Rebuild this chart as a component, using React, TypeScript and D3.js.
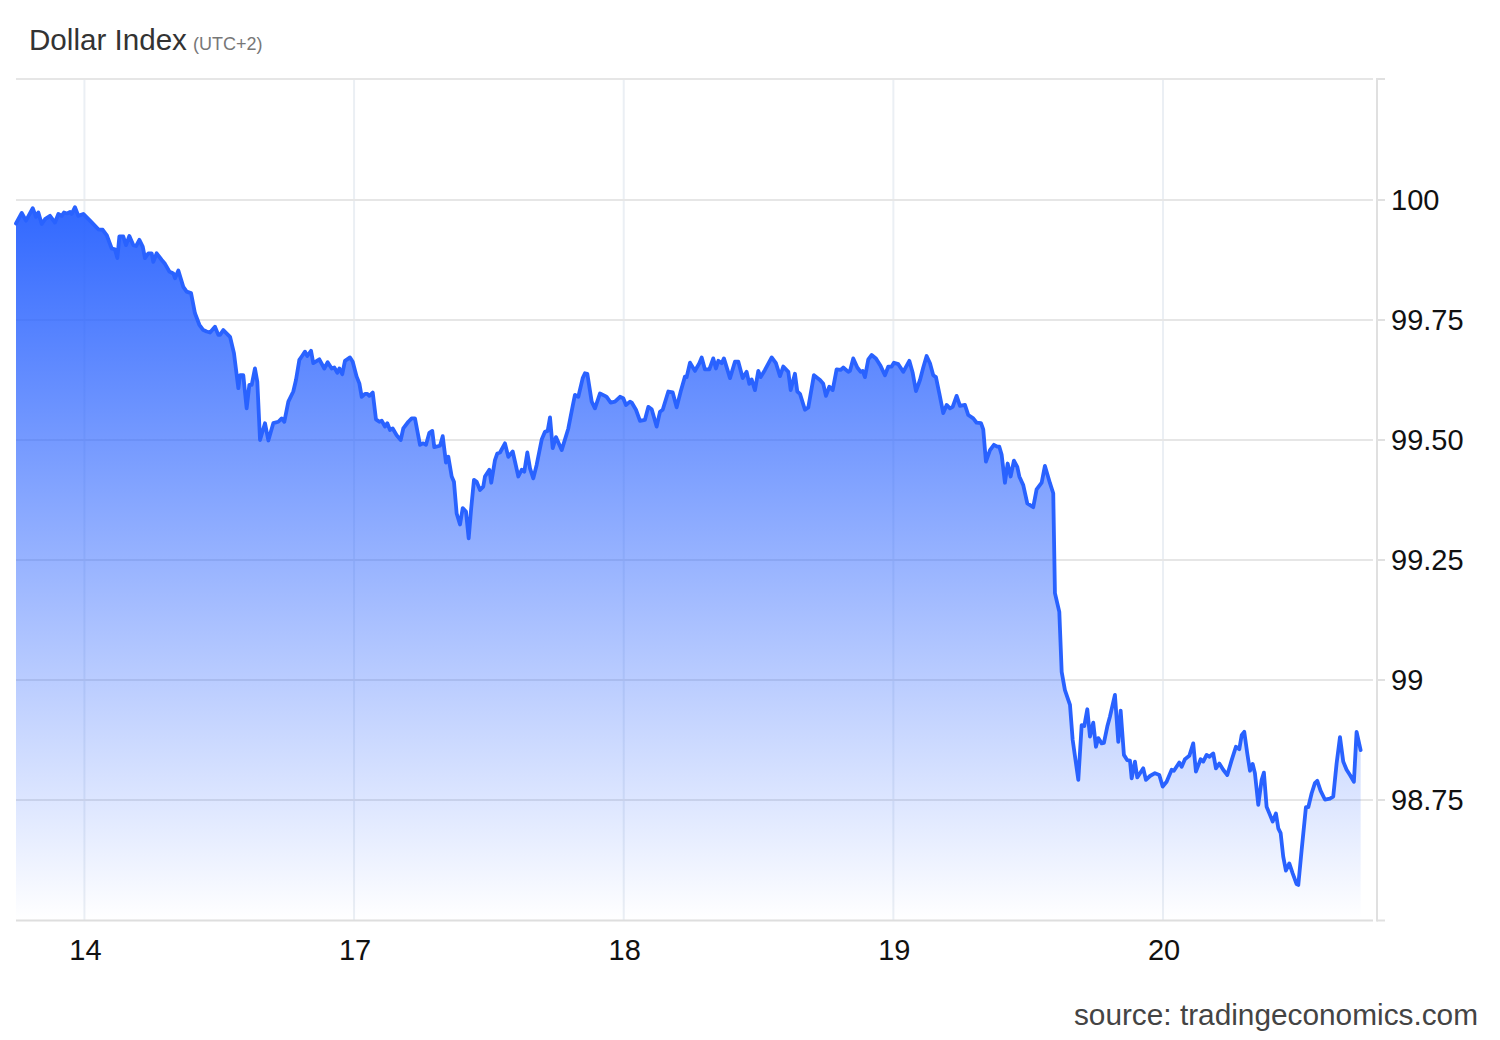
import React, { useEffect } from "react";
import * as d3 from "d3";

// Trading-time hours (weekend removed) from 14th 00:00, and Dollar Index values
const session14: [number, number][] = [
  [-6.09, 99.951], [-5.58, 99.973], [-5.2, 99.957], [-4.6, 99.983], [-4.31, 99.965], [-4.1, 99.974],
  [-3.8, 99.95], [-3.51, 99.96], [-3.06, 99.967], [-2.62, 99.953], [-2.32, 99.971], [-2.02, 99.967],
  [-1.82, 99.974], [-1.55, 99.972], [-1.28, 99.975], [-1.13, 99.971], [-0.84, 99.985], [-0.54, 99.967],
  [-0.1, 99.971], [0.5, 99.957], [1.24, 99.939], [1.63, 99.938], [1.98, 99.927], [2.43, 99.899],
  [2.72, 99.897], [2.93, 99.879], [3.11, 99.924], [3.46, 99.924], [3.7, 99.906], [4.0, 99.925],
  [4.35, 99.906], [4.59, 99.904], [4.89, 99.917], [5.19, 99.903], [5.39, 99.879], [5.69, 99.889],
  [5.99, 99.889], [6.13, 99.871], [6.43, 99.889], [6.88, 99.875], [7.17, 99.867], [7.56, 99.851],
  [7.91, 99.847], [8.06, 99.837], [8.36, 99.853], [8.8, 99.819], [9.1, 99.809], [9.49, 99.806],
  [9.84, 99.764], [10.23, 99.74], [10.58, 99.729], [10.88, 99.726], [11.18, 99.724], [11.62, 99.736],
  [11.92, 99.719], [12.07, 99.719], [12.36, 99.729], [12.96, 99.715], [13.31, 99.681], [13.7, 99.608],
  [13.85, 99.635], [14.14, 99.635], [14.44, 99.566], [14.68, 99.615], [14.89, 99.615], [15.18, 99.649],
  [15.39, 99.621], [15.63, 99.5], [16.07, 99.535], [16.37, 99.499], [16.81, 99.535], [17.26, 99.538],
  [17.56, 99.545], [17.79, 99.538], [18.15, 99.58], [18.59, 99.601], [18.83, 99.625], [19.13, 99.667],
  [19.37, 99.675], [19.63, 99.684], [19.84, 99.675], [20.17, 99.686], [20.37, 99.66], [20.91, 99.668],
  [21.35, 99.649], [21.65, 99.662], [22.01, 99.649], [22.24, 99.651], [22.51, 99.64], [22.69, 99.649],
  [22.95, 99.637], [23.19, 99.665], [23.64, 99.672], [23.88, 99.663],
];

const session17: [number, number][] = [
  [24.23, 99.632], [24.47, 99.618], [24.68, 99.59], [24.97, 99.596], [25.18, 99.596], [25.36, 99.592],
  [25.66, 99.599], [25.95, 99.543], [26.25, 99.538], [26.46, 99.54], [26.75, 99.528], [26.96, 99.535],
  [27.2, 99.521], [27.44, 99.524], [27.79, 99.51], [28.15, 99.5], [28.38, 99.524], [28.83, 99.538],
  [29.13, 99.545], [29.42, 99.545], [29.87, 99.49], [30.16, 99.493], [30.4, 99.49], [30.7, 99.515],
  [30.96, 99.519], [31.14, 99.485], [31.65, 99.488], [31.89, 99.508], [32.18, 99.453], [32.39, 99.465],
  [32.69, 99.424], [32.89, 99.413], [33.13, 99.347], [33.43, 99.324], [33.67, 99.358], [33.96, 99.351],
  [34.2, 99.295], [34.41, 99.354], [34.67, 99.417], [34.91, 99.413], [35.21, 99.396], [35.5, 99.403],
  [35.65, 99.424], [36.04, 99.438], [36.21, 99.411], [36.54, 99.458], [36.75, 99.472], [36.99, 99.474],
  [37.43, 99.493], [37.73, 99.465], [38.12, 99.476], [38.62, 99.424], [38.92, 99.438], [39.15, 99.434],
  [39.42, 99.474], [39.66, 99.441], [39.95, 99.42], [40.25, 99.448], [40.7, 99.501], [40.99, 99.517],
  [41.23, 99.519], [41.44, 99.547], [41.68, 99.483], [41.97, 99.506], [42.48, 99.479], [43.07, 99.524],
  [43.46, 99.571], [43.66, 99.594], [43.96, 99.59], [44.35, 99.629], [44.55, 99.639], [44.76, 99.638],
  [45.15, 99.58], [45.44, 99.566], [45.89, 99.597], [46.33, 99.592], [46.48, 99.59], [46.84, 99.578],
  [47.22, 99.58], [47.67, 99.59], [47.96, 99.587],
];

const session18: [number, number][] = [
  [48.2, 99.573], [48.56, 99.58], [48.71, 99.578], [49.09, 99.563], [49.45, 99.54], [49.89, 99.542],
  [50.19, 99.569], [50.49, 99.564], [50.93, 99.528], [51.23, 99.559], [51.47, 99.563], [51.97, 99.601],
  [52.36, 99.599], [52.71, 99.568], [53.07, 99.601], [53.45, 99.632], [53.6, 99.631], [53.9, 99.661],
  [54.34, 99.644], [54.73, 99.66], [54.94, 99.672], [55.23, 99.647], [55.62, 99.647], [55.97, 99.67],
  [56.21, 99.649], [56.42, 99.665], [56.72, 99.66], [56.92, 99.67], [57.46, 99.629], [57.9, 99.663],
  [58.2, 99.663], [58.59, 99.629], [58.94, 99.642], [59.18, 99.617], [59.39, 99.626], [59.68, 99.604],
  [59.98, 99.644], [60.19, 99.631], [60.57, 99.646], [61.17, 99.672], [61.55, 99.66], [61.91, 99.633],
  [62.2, 99.653], [62.65, 99.642], [62.86, 99.604], [63.24, 99.638], [63.45, 99.601], [63.69, 99.596],
  [64.13, 99.563], [64.43, 99.568], [64.93, 99.635], [65.47, 99.625], [65.76, 99.617], [66.0, 99.592],
  [66.3, 99.611], [66.6, 99.604], [66.95, 99.647], [67.31, 99.646], [67.54, 99.651], [67.99, 99.642],
  [68.14, 99.644], [68.43, 99.67], [68.79, 99.651], [69.09, 99.642], [69.27, 99.644], [69.47, 99.631],
  [69.77, 99.668], [70.07, 99.677], [70.45, 99.67], [70.87, 99.654], [71.25, 99.635], [71.55, 99.653],
  [71.85, 99.653],
];

const session19: [number, number][] = [
  [72.05, 99.661], [72.44, 99.658], [72.88, 99.642], [73.42, 99.665], [73.72, 99.64], [74.01, 99.602],
  [74.37, 99.625], [74.66, 99.651], [74.96, 99.675], [75.26, 99.66], [75.55, 99.635], [75.79, 99.631],
  [76.09, 99.597], [76.44, 99.556], [76.74, 99.573], [77.04, 99.566], [77.28, 99.569], [77.63, 99.592],
  [77.93, 99.571], [78.37, 99.573], [78.67, 99.552], [79.11, 99.545], [79.41, 99.536], [79.8, 99.535],
  [80.0, 99.522], [80.24, 99.455], [80.6, 99.479], [80.95, 99.49], [81.25, 99.486], [81.43, 99.486],
  [81.64, 99.469], [81.93, 99.411], [82.17, 99.451], [82.44, 99.424], [82.73, 99.457], [83.03, 99.444],
  [83.21, 99.424], [83.56, 99.406], [83.92, 99.368], [84.45, 99.36], [84.75, 99.397], [85.2, 99.411],
  [85.49, 99.446], [85.94, 99.41], [86.23, 99.389], [86.38, 99.181], [86.77, 99.142], [86.98, 99.017],
  [87.27, 98.979], [87.72, 98.948], [87.96, 98.875], [88.46, 98.792], [88.76, 98.906], [88.99, 98.904],
  [89.26, 98.939], [89.5, 98.882], [89.79, 98.911], [90.03, 98.861], [90.24, 98.879], [90.54, 98.868],
  [90.74, 98.869], [91.04, 98.903], [91.28, 98.924], [91.72, 98.969], [92.02, 98.871], [92.23, 98.936],
  [92.52, 98.844], [92.82, 98.833], [93.06, 98.832], [93.21, 98.795], [93.5, 98.83], [93.71, 98.797],
  [94.24, 98.816], [94.48, 98.792], [94.84, 98.8], [95.28, 98.806], [95.67, 98.802],
];

const session20: [number, number][] = [
  [95.97, 98.778], [96.32, 98.788], [96.77, 98.813], [96.97, 98.811], [97.45, 98.828], [97.66, 98.819],
  [97.95, 98.835], [98.34, 98.842], [98.69, 98.868], [98.93, 98.809], [99.35, 98.835], [99.58, 98.83],
  [99.88, 98.844], [100.12, 98.84], [100.47, 98.847], [100.71, 98.816], [101.01, 98.826], [101.36, 98.813],
  [101.72, 98.802], [102.11, 98.833], [102.49, 98.861], [102.79, 98.856], [103.0, 98.885], [103.23, 98.892],
  [103.5, 98.847], [103.74, 98.811], [103.98, 98.825], [104.18, 98.806], [104.48, 98.74], [104.78, 98.792],
  [104.98, 98.807], [105.22, 98.736], [105.52, 98.719], [105.76, 98.705], [106.05, 98.722], [106.26, 98.691],
  [106.47, 98.681], [106.7, 98.632], [106.94, 98.603], [107.24, 98.618], [107.54, 98.597], [107.89, 98.575],
  [108.04, 98.573], [108.34, 98.646], [108.72, 98.735], [108.93, 98.735], [109.23, 98.764], [109.52, 98.785],
  [109.73, 98.79], [110.03, 98.769], [110.41, 98.751], [110.86, 98.753], [111.15, 98.757], [111.45, 98.826],
  [111.75, 98.881], [112.04, 98.83], [112.34, 98.813], [112.64, 98.802], [112.99, 98.788], [113.23, 98.892],
  [113.59, 98.854],
];

const dayTickHours = [0, 24, 48, 72, 96];
const dayTickLabels = ["14", "17", "18", "19", "20"];
const yTickValues = [98.75, 99, 99.25, 99.5, 99.75, 100, 100.25];
const yTickLabels = ["98.75", "99", "99.25", "99.50", "99.75", "100", ""];

const FONT = "'Liberation Sans', Arial, Helvetica, sans-serif";
const LINE_COLOR = "#2962ff";

export default function App() {
  useEffect(() => {
    document.body.style.margin = "0";
  }, []);

  const data = [...session14, ...session17, ...session18, ...session19, ...session20];

  const left = 16;
  const right = 1373;
  const top = 80;
  const bottom = 920;

  const x = d3.scaleLinear().domain([-6.09, 114.69]).range([left, right]);
  const y = d3.scaleLinear().domain([98.5, 100.25]).range([bottom, top]);

  const linePath = d3
    .line<[number, number]>()
    .x((d) => x(d[0]))
    .y((d) => y(d[1]))
    .curve(d3.curveLinear)(data) as string;

  const areaPath = d3
    .area<[number, number]>()
    .x((d) => x(d[0]))
    .y0(bottom)
    .y1((d) => y(d[1]))
    .curve(d3.curveLinear)(data) as string;

  const axisX = 1377;
  const gy = (v: number) => y(v) - (v === 100.25 ? 1 : 0);

  return (
    <div style={{ position: "absolute", left: 0, top: 0 }}>
      <svg width={1500} height={1040} style={{ display: "block", background: "#fff" }}>
        <defs>
          <linearGradient id="areaFill" gradientUnits="userSpaceOnUse" x1={0} y1={y(100)} x2={0} y2={bottom}>
            <stop offset="0" stopColor={LINE_COLOR} stopOpacity={0.97} />
            <stop offset="1" stopColor={LINE_COLOR} stopOpacity={0.0} />
          </linearGradient>
        </defs>

        {/* title */}
        <text x={29} y={50} fontFamily={FONT} fontSize={29.6} fill="#333">
          Dollar Index
        </text>
        <text x={193} y={50} fontFamily={FONT} fontSize={18} fill="#777">
          (UTC+2)
        </text>

        {/* vertical grid */}
        {dayTickHours.map((h) => (
          <line key={"vg" + h} x1={x(h)} x2={x(h)} y1={top - 1} y2={bottom} stroke="#ebeff4" strokeWidth={2} />
        ))}

        {/* horizontal grid */}
        {yTickValues.map((v) => (
          <line key={"hg" + v} x1={left} x2={right} y1={gy(v)} y2={gy(v)} stroke="#e6e6e6" strokeWidth={2} />
        ))}

        {/* area and line */}
        <path d={areaPath} fill="url(#areaFill)" stroke="none" />
        <path d={linePath} fill="none" stroke={LINE_COLOR} strokeWidth={3.8} strokeLinejoin="round" strokeLinecap="round" />

        {/* bottom axis line */}
        <line x1={left} x2={right} y1={bottom + 0.5} y2={bottom + 0.5} stroke="#dedede" strokeWidth={2} />

        {/* right axis */}
        <line x1={axisX} x2={axisX} y1={top - 2} y2={bottom + 1.5} stroke="#e0e0e0" strokeWidth={2} />
        {yTickValues.map((v) => (
          <line key={"yt" + v} x1={axisX} x2={axisX + 8} y1={gy(v)} y2={gy(v)} stroke="#e0e0e0" strokeWidth={2} />
        ))}
        <line x1={axisX} x2={axisX + 8} y1={bottom + 0.5} y2={bottom + 0.5} stroke="#e0e0e0" strokeWidth={2} />

        {/* y tick labels */}
        {yTickValues.map((v, i) =>
          yTickLabels[i] ? (
            <text key={"yl" + v} x={1391} y={y(v)} dy="0.36em" fontFamily={FONT} fontSize={29} fill="#111">
              {yTickLabels[i]}
            </text>
          ) : null
        )}

        {/* x tick labels */}
        {dayTickHours.map((h, i) => (
          <text key={"xl" + h} x={x(h) + 1} y={960} textAnchor="middle" fontFamily={FONT} fontSize={29} fill="#111">
            {dayTickLabels[i]}
          </text>
        ))}

        {/* source */}
        <text x={1478} y={1025} textAnchor="end" fontFamily={FONT} fontSize={29.8} fill="#444">
          source: tradingeconomics.com
        </text>
      </svg>
    </div>
  );
}
